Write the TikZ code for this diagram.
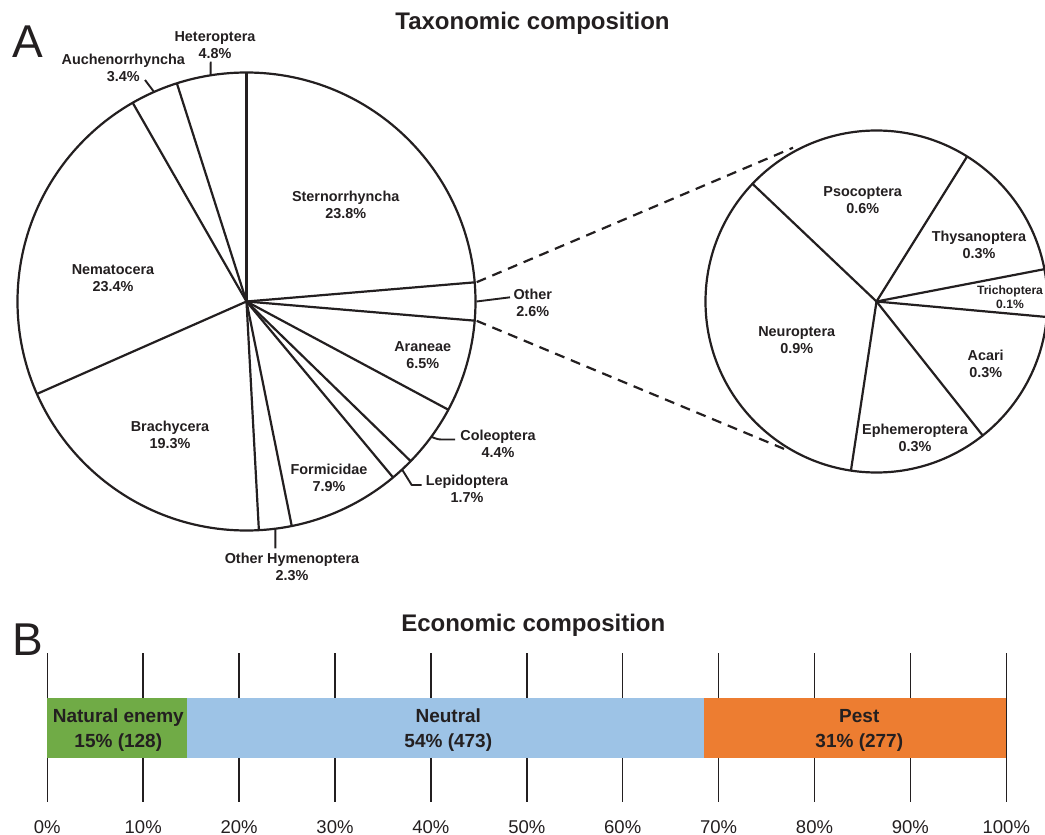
\documentclass[tikz,border=0pt]{standalone}
\usepackage{fontspec}
\setmainfont{Liberation Sans}
\usetikzlibrary{calc}
\definecolor{ink}{HTML}{231F20}
\definecolor{negreen}{HTML}{70AB46}
\definecolor{neublue}{HTML}{9DC3E6}
\definecolor{pestorange}{HTML}{ED7D31}
\begin{document}
\begin{tikzpicture}[x=1pt,y=-1pt,line join=round,
  pieline/.style={line width=2.2pt,draw=ink},
  leader/.style={line width=1.9pt,draw=ink},
  zoomline/.style={line width=2.2pt,draw=ink,dash pattern=on 10pt off 7pt},
  lab/.style={font=\fontsize{14.4}{17}\selectfont\bfseries,text=ink,align=center,inner sep=0pt},
  smalllab/.style={font=\fontsize{12.1}{14}\selectfont\bfseries,text=ink,align=center,inner sep=0pt},
  paneltitle/.style={font=\fontsize{24}{28}\selectfont\bfseries,text=ink,anchor=base,inner sep=0pt},
  panelletter/.style={font=\fontsize{46}{50}\selectfont,text=ink,anchor=base,inner sep=0pt},
  barlab/.style={font=\fontsize{19}{25}\selectfont\bfseries,text=ink,align=center,inner sep=0pt},
  ticklab/.style={font=\fontsize{18.5}{22}\selectfont,text=ink,inner sep=0pt},
  tickline/.style={line width=1.5pt,draw=ink}]
\useasboundingbox (0,0) rectangle (1045,835);

% ---------- Panel A ----------
\node[panelletter] (A) at (27.5,57.3) {A};
\node[paneltitle] (t1) at (532.5,30) {Taxonomic composition};

\coordinate (c1) at (246.5,301.5);
\coordinate (c2) at (876.5,301.5);

% main pie
\draw[pieline] (c1) circle[radius=229pt];
\foreach \a in {90,4.8,-4.8,-28.2,-44.2,-50.2,-78.6,-86.9,-156.2,119.8,107.7}
  \draw[pieline] (c1) -- ($(c1)+(\a:229pt)$);

\node[lab] (stern) at (345.7,205) {Sternorrhyncha\\23.8\%};
\node[lab] (nema) at (113,277.7) {Nematocera\\23.4\%};
\node[lab] (hete) at (215,45) {Heteroptera\\4.8\%};
\node[lab] (auch) at (123.3,68.3) {Auchenorrhyncha\\3.4\%};
\node[lab] (aran) at (422.7,355) {Araneae\\6.5\%};
\node[lab] (brac) at (170,434.7) {Brachycera\\19.3\%};
\node[lab] (formi) at (329,478) {Formicidae\\7.9\%};
\node[lab] (ohym) at (292,566.7) {Other Hymenoptera\\2.3\%};
\node[lab] (cole) at (498,444) {Coleoptera\\4.4\%};
\node[lab] (lepi) at (467,489.3) {Lepidoptera\\1.7\%};
\node[lab] (other) at (532.7,302.8) {Other\\2.6\%};

% leaders
\coordinate (lhete) at ($(c1)+(99:229pt)$);
\coordinate (ehete) at (210.7,61.7);
\draw[leader] (lhete) -- (ehete);
\coordinate (lauch) at ($(c1)+(113.8:229pt)$);
\coordinate (eauch) at (145,80);
\draw[leader] (lauch) -- (eauch);
\coordinate (lother) at ($(c1)+(0:230pt)$);
\coordinate (eother) at (510,297.3);
\draw[leader] (lother) -- (eother);
\coordinate (lcole) at ($(c1)+(-36.2:229pt)$);
\coordinate (ecole) at (455,439.5);
\draw[leader,rounded corners=3pt] (lcole) -- (438,439.5) -- (ecole);
\coordinate (llepi) at ($(c1)+(-47.2:229pt)$);
\coordinate (elepi) at (421.7,485);
\draw[leader] (llepi) -- (411.7,485) -- (elepi);
\coordinate (lohym) at ($(c1)+(-82.75:229pt)$);
\coordinate (eohym) at (275.4,548.3);
\draw[leader] (lohym) -- (eohym);

% zoom lines
\coordinate (z1a) at ($(c1)+(4.8:231pt)$);
\coordinate (z1b) at ($(c2)+(118.5:175pt)$);
\coordinate (z2a) at ($(c1)+(-4.8:231pt)$);
\coordinate (z2b) at ($(c2)+(-119.9:173pt)$);
\draw[zoomline] (z1a) -- (z1b);
\draw[zoomline] (z2a) -- (z2b);

% second pie
\draw[pieline] (c2) circle[radius=171pt];
\foreach \a in {136.5,58,10.9,-5.2,-51.6,-98.6}
  \draw[pieline] (c2) -- ($(c2)+(\a:171pt)$);

\node[lab] (psoc) at (862.7,200) {Psocoptera\\0.6\%};
\node[lab] (thys) at (979,245) {Thysanoptera\\0.3\%};
\node[smalllab] (tric) at (1010,297.5) {Trichoptera\\0.1\%};
\node[lab] (neur) at (796.7,340.5) {Neuroptera\\0.9\%};
\node[lab] (acar) at (985.7,363.7) {Acari\\0.3\%};
\node[lab] (ephe) at (915,438.3) {Ephemeroptera\\0.3\%};

% ---------- Panel B ----------
\node[panelletter] (B) at (27.5,655) {B};
\node[paneltitle] (t2) at (533.3,631.7) {Economic composition};

\foreach \i/\t in {0/0,1/10,2/20,3/30,4/40,5/50,6/60,7/70,8/80,9/90,10/100}{
  \pgfmathsetmacro{\xx}{47.3+95.9*\i}
  \draw[tickline] (\xx,653) -- (\xx,802);
  \node[ticklab] (tl\i) at (\xx,826.7) {\t\%};
}

\fill[negreen] (47.3,697.7) rectangle (186.7,757.7);
\fill[neublue] (186.7,697.7) rectangle (704,757.7);
\fill[pestorange] (704,697.7) rectangle (1006.3,757.7);

\node[barlab] (nat) at (118.3,730) {Natural enemy\\15\% (128)};
\node[barlab] (neu) at (448.3,730) {Neutral\\54\% (473)};
\node[barlab] (pest) at (859.3,730) {Pest\\31\% (277)};
\end{tikzpicture}
\end{document}
